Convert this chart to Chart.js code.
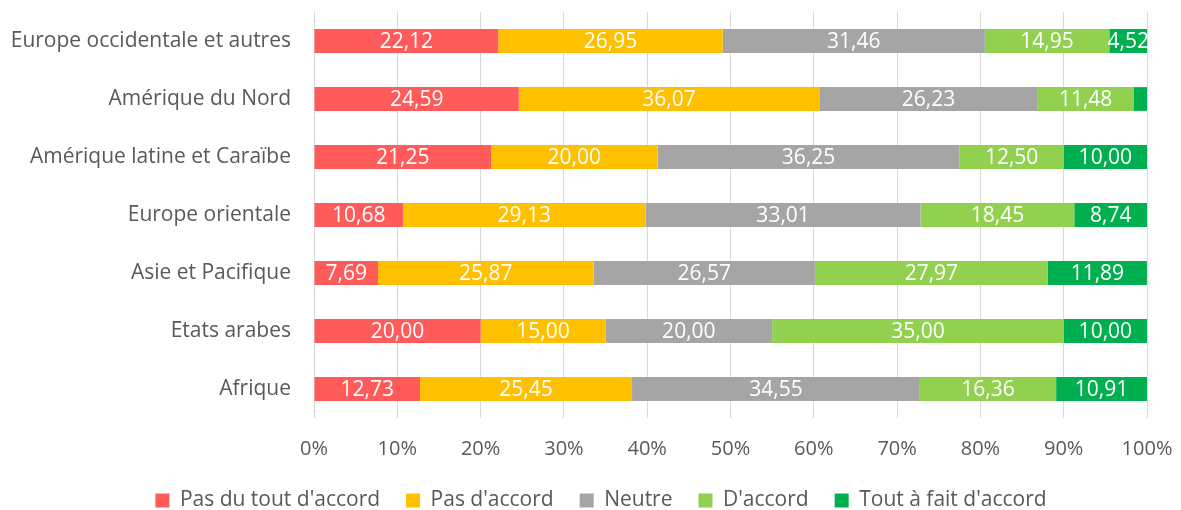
<!DOCTYPE html>
<html>
<head>
<meta charset="utf-8">
<script src="https://cdn.jsdelivr.net/npm/chart.js@4"></script>
<style>
  html, body { margin: 0; padding: 0; background: #fff; }
  #wrap { width: 1181px; height: 510px; position: relative; }
</style>
</head>
<body>
<div id="wrap"><canvas id="chart"></canvas></div>
<script>
// regions (top to bottom)
const regions = ['Europe occidentale et autres', 'Amérique du Nord', 'Amérique latine et Caraïbe',
  'Europe orientale', 'Asie et Pacifique', 'Etats arabes', 'Afrique'];

// answer shares in %
const pasDuTout = [22.12, 24.59, 21.25, 10.68, 7.69, 20.00, 12.73];
const pasDaccord = [26.95, 36.07, 20.00, 29.13, 25.87, 15.00, 25.45];
const neutre = [31.46, 26.23, 36.25, 33.01, 26.57, 20.00, 34.55];
const daccord = [14.95, 11.48, 12.50, 18.45, 27.97, 35.00, 16.36];
const toutAFait = [4.52, 1.64, 10.00, 8.74, 11.89, 10.00, 10.91];

const xTicks = [0, 10, 20, 30, 40, 50, 60, 70, 80, 90, 100];

const FONT = "'Open Sans', sans-serif";
const GREY_TEXT = '#595959';

// white value labels inside the segments
const barLabels = {
  id: 'barLabels',
  afterDatasetsDraw(chart) {
    const ctx = chart.ctx;
    ctx.save();
    ctx.font = '21px ' + FONT;
    ctx.fillStyle = '#ffffff';
    ctx.textAlign = 'center';
    ctx.textBaseline = 'middle';
    chart.data.datasets.forEach((ds, i) => {
      const meta = chart.getDatasetMeta(i);
      meta.data.forEach((bar, j) => {
        const v = ds.data[j];
        if (v < 2) return; // too thin, no label in the original
        const cx = (bar.x + bar.base) / 2;
        ctx.fillText(v.toFixed(2).replace('.', ','), cx, bar.y + 1);
      });
    });
    ctx.restore();
  }
};

// legend is centred under the whole figure, not only the plot
const shiftLegend = {
  id: 'shiftLegend',
  afterLayout(chart) {
    chart.legend.left = 55;
  }
};

const mkSet = (label, data, color) => ({
  label: label,
  data: data,
  backgroundColor: color,
  borderWidth: 0,
  barPercentage: 0.41,
  categoryPercentage: 1
});

new Chart(document.getElementById('chart'), {
  type: 'bar',
  data: {
    labels: regions,
    datasets: [
      mkSet("Pas du tout d'accord", pasDuTout, '#FF5B5B'),
      mkSet("Pas d'accord", pasDaccord, '#FFC000'),
      mkSet('Neutre', neutre, '#A5A5A5'),
      mkSet("D'accord", daccord, '#92D050'),
      mkSet("Tout à fait d'accord", toutAFait, '#00B050')
    ]
  },
  options: {
    indexAxis: 'y',
    responsive: true,
    maintainAspectRatio: false,
    animation: false,
    layout: { padding: { left: 0, right: 34, top: 12, bottom: -11 } },
    scales: {
      x: {
        stacked: true,
        min: 0,
        max: 100,
        afterBuildTicks: (s) => { s.ticks = xTicks.map(v => ({ value: v })); },
        afterFit: (s) => { s.height = 46; s.paddingLeft = 0; s.paddingRight = 0; },
        grid: { color: '#D9D9D9', lineWidth: 1, drawTicks: false },
        border: { display: false },
        ticks: {
          color: GREY_TEXT,
          font: { family: FONT, size: 20 },
          padding: 19,
          callback: (v) => v + '%'
        }
      },
      y: {
        stacked: true,
        afterFit: (s) => { s.width = 314; s.paddingTop = 0; s.paddingBottom = 0; },
        grid: { display: false, drawTicks: false },
        border: { display: false },
        ticks: {
          color: GREY_TEXT,
          font: { family: FONT, size: 21 },
          padding: 23
        }
      }
    },
    plugins: {
      legend: {
        position: 'bottom',
        labels: {
          color: GREY_TEXT,
          font: { family: FONT, size: 21 },
          boxWidth: 14,
          boxHeight: 14,
          padding: 26
        }
      },
      tooltip: { enabled: false }
    }
  },
  plugins: [barLabels, shiftLegend]
});
</script>
</body>
</html>
